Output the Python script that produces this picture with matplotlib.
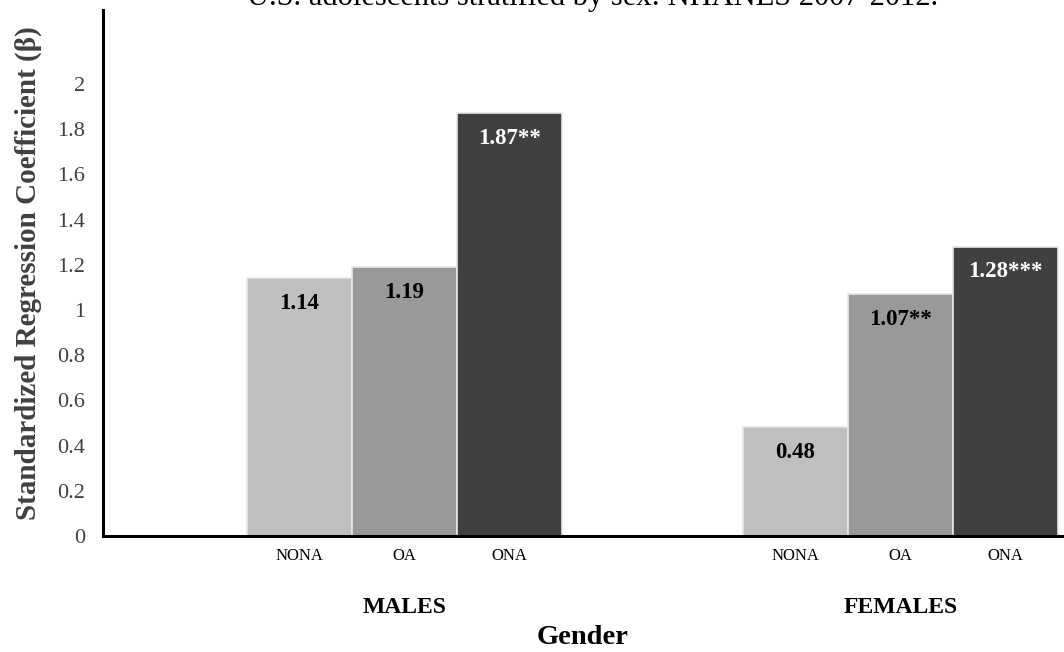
import numpy as np
import matplotlib
matplotlib.use('Agg')
import matplotlib.pyplot as plt

plt.rcParams['font.family'] = ['Liberation Serif', 'DejaVu Serif']

#  data
groups = ['MALES', 'FEMALES']
series = ['NONA', 'OA', 'ONA']
values = {
    'NONA': [1.14, 0.48],
    'OA':   [1.19, 1.07],
    'ONA':  [1.87, 1.28],
}
labels = {
    'NONA': ['1.14', '0.48'],
    'OA':   ['1.19', '1.07**'],
    'ONA':  ['1.87**', '1.28***'],
}
colors = {'NONA': '#bfbfbf', 'OA': '#999999', 'ONA': '#404040'}
text_colors = {'NONA': 'black', 'OA': 'black', 'ONA': 'white'}
yticks = [0, 0.2, 0.4, 0.6, 0.8, 1, 1.2, 1.4, 1.6, 1.8, 2]
ytick_labels = ['0', '0.2', '0.4', '0.6', '0.8', '1', '1.2', '1.4', '1.6', '1.8', '2']

fig = plt.figure(figsize=(10.64, 6.52), dpi=100)
ax = fig.add_axes([103/1064, 116/652, 961/1064, 526/652])

x = np.arange(len(groups))
w = 0.2117
tick_pos, tick_lab = [], []
for i, s in enumerate(series):
    pos = x + (i - 1) * w
    ax.bar(pos, values[s], width=w, color=colors[s], edgecolor='#e6e6e6', linewidth=1.2)
    for p, v, lab in zip(pos, values[s], labels[s]):
        ax.annotate(lab, (p, v), xytext=(0, -18), textcoords='offset points',
                    ha='center', va='center', fontsize=16.5, fontweight='bold',
                    color=text_colors[s])
    tick_pos.extend(pos)
    tick_lab.extend([s] * len(groups))

ax.set_xlim(-0.608, 1.3296)
ax.set_ylim(0, 2.327)
ax.set_xticks(tick_pos)
ax.set_xticklabels(tick_lab, fontsize=12)
ax.set_yticks(yticks)
ax.set_yticklabels(ytick_labels, fontsize=16, color='#404040')
ax.tick_params(axis='x', length=0, pad=9)
ax.tick_params(axis='y', length=0, pad=13)

for g, xi in zip(groups, x):
    ax.text(xi, -0.135, g, transform=ax.get_xaxis_transform(),
            ha='center', va='center', fontsize=17, fontweight='bold')

ax.spines['top'].set_visible(False)
ax.spines['right'].set_visible(False)
ax.spines['left'].set_linewidth(2.2)
ax.spines['bottom'].set_linewidth(2.2)

ax.set_ylabel('Standardized Regression Coefficient (β)', fontsize=21,
              fontweight='bold', color='#404040')
ax.yaxis.set_label_coords(-0.0635, 0.5)
fig.text(583/1064, 1 - 638/652, 'Gender', ha='center', va='center',
         fontsize=20.5, fontweight='bold')

fig.text(593/1064, 1 - 5/652, 'U.S. adolescents stratified by sex: NHANES 2007-2012.',
         ha='center', va='baseline', fontsize=22)

fig.savefig('out.png', dpi=100)
